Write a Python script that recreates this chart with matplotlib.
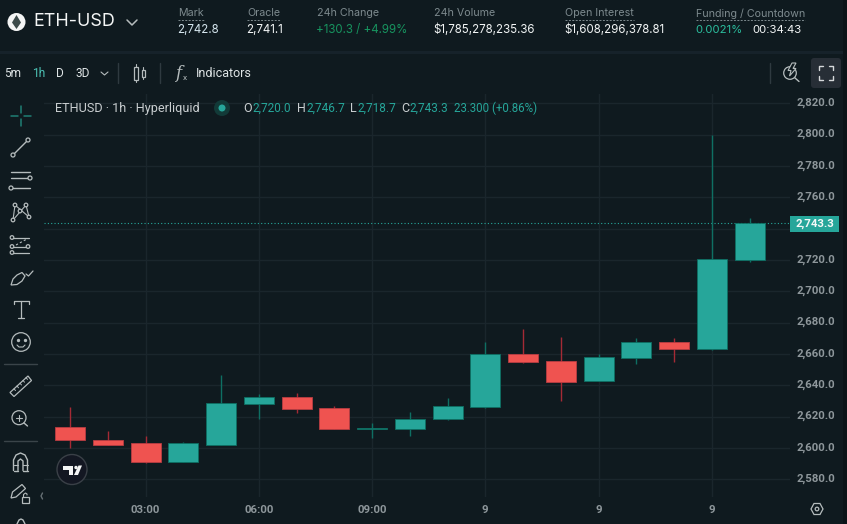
#! python3

import matplotlib
matplotlib.use("Agg")
import matplotlib.pyplot as plt
from matplotlib.patches import Rectangle, Circle, FancyBboxPatch, Polygon
from matplotlib.transforms import ScaledTranslation

WIDTH, HEIGHT = 847, 524
BG = "#0f1a1f"
BAND = "#16222a"
GRID = "#1a262c"
UP = "#26a69a"
DOWN = "#ef5350"
UP_WICK = "#0e6f63"
DOWN_WICK = "#a52a35"
ICON = "#b5bcbd"
LABEL = "#8e979b"

hours = list(range(1, 20))
opens = [2613.6, 2605.0, 2603.0, 2591.3, 2602.0, 2628.3, 2632.5, 2625.7, 2612.0, 2612.0,
         2618.3, 2626.4, 2660.0, 2655.5, 2643.0, 2657.4, 2667.6, 2663.0, 2720.0]
highs = [2626.3, 2610.8, 2607.6, 2604.0, 2646.6, 2634.5, 2635.3, 2627.0, 2616.0, 2623.0,
         2631.7, 2667.6, 2675.7, 2671.0, 2659.8, 2670.0, 2670.0, 2800.0, 2746.7]
lows = [2600.0, 2602.0, 2590.6, 2591.0, 2602.0, 2618.3, 2622.5, 2612.0, 2606.6, 2607.5,
        2617.8, 2625.3, 2654.4, 2630.0, 2642.5, 2653.8, 2655.0, 2662.5, 2718.7]
closes = [2605.3, 2602.0, 2591.3, 2603.0, 2628.7, 2632.5, 2625.0, 2612.0, 2612.6, 2618.7,
          2626.8, 2660.0, 2655.0, 2642.3, 2657.9, 2667.6, 2663.0, 2720.4, 2743.3]

time_ticks = [3, 6, 9, 12, 15, 18]
time_labels = ["03:00", "06:00", "09:00", "9", "9", "9"]
price_ticks = list(range(2580, 2821, 20))
last_price = 2743.3

header_stats = [
    (178, "Mark", "2,742.8", "#d5e6ee", True),
    (247, "Oracle", "2,741.1", "#f2f5f5", True),
    (317, "24h Change", "+130.3 / +4.99%", "#17945f", False),
    (434, "24h Volume", "$1,785,278,235.36", "#f2f5f5", False),
    (565, "Open Interest", "$1,608,296,378.81", "#f2f5f5", True),
    (696, "Funding / Countdown", None, None, True),
]
ohlc_parts = [
    (243, 252, "O", "2,720.0"), (297, 306, "H", "2,746.7"),
    (350, 357, "L", "2,718.7"), (401, 409, "C", "2,743.3"),
]


def pixelAxes(fig):
    ax = fig.add_axes([0, 0, 1, 1], zorder=5)
    ax.set_xlim(0, WIDTH)
    ax.set_ylim(HEIGHT, 0)
    ax.axis("off")
    ax.patch.set_alpha(0)
    return ax


def seg(ax, x, y, color=ICON, lw=1.0):
    ax.plot(x, y, color=color, lw=lw, solid_capstyle="round")


def ring(ax, x, y, r=2.0, color=ICON, lw=0.9):
    ax.add_patch(Circle((x, y), r, fill=True, fc=BG, ec=color, lw=lw, zorder=6))


def outline(ax, pts, lw=0.9):
    ax.add_patch(Polygon(pts, fc="none", ec=ICON, lw=lw))


def drawChart(fig):
    # pixel positions of the price and time scales
    left, right, top, bottom = 44, 790, 94, 497
    ax = fig.add_axes([left / WIDTH, 1 - bottom / HEIGHT,
                       (right - left) / WIDTH, (bottom - top) / HEIGHT])
    ax.set_facecolor(BG)
    px_per_unit = 1.5667
    ax.set_ylim(2820 - (bottom - 103.3) / px_per_unit, 2820 + (103.3 - top) / px_per_unit)
    px_per_hour = 37.75
    ax.set_xlim(3 + (left - 145.5) / px_per_hour, 3 + (right - 145.5) / px_per_hour)
    for side in ax.spines.values():
        side.set_visible(False)
    ax.set_xticks(time_ticks)
    ax.set_xticklabels(time_labels)
    ax.set_yticks(price_ticks)
    # the 2,740.0 label sits behind the last price tag
    ax.set_yticklabels(["" if p == 2740 else f"{p:,.1f}" for p in price_ticks])
    ax.yaxis.tick_right()
    ax.tick_params(axis="both", length=0, labelcolor=LABEL, labelsize=8.2)
    ax.tick_params(axis="y", pad=4.5)
    ax.tick_params(axis="x", pad=5.5)
    up_shift = ScaledTranslation(0, 1.5 / 100, fig.dpi_scale_trans)
    for lab in ax.get_yticklabels():
        lab.set_transform(lab.get_transform() + up_shift)
    for lab in ax.get_xticklabels() + ax.get_yticklabels():
        lab.set_fontfamily("Roboto")
        lab.set_fontweight("bold")
    ax.grid(True, color=GRID, lw=1.0)
    ax.set_axisbelow(True)

    width = 30 / px_per_hour
    for h, o, hi, lo, c in zip(hours, opens, highs, lows, closes):
        up = c >= o
        ax.vlines(h, lo, hi, color=UP_WICK if up else DOWN_WICK, lw=1.0, zorder=2)
        body = max(abs(c - o), 0.6)
        ax.add_patch(Rectangle((h - width / 2, min(o, c)), width, body,
                               fc=UP if up else DOWN, ec=UP_WICK if up else "#b93c42",
                               lw=0.6, zorder=3))
    ax.axhline(last_price, color=UP, lw=0.8, ls=(0, (1, 2)), zorder=1)
    return ax


def drawHeader(ui):
    ui.add_patch(Rectangle((0, 50.5), WIDTH, 3.5, fc=BAND, ec="none"))
    ui.add_patch(Rectangle((842.5, 0), 4.5, HEIGHT, fc="#0b1418", ec="none"))
    ui.add_patch(Circle((16.5, 22), 9, fc="#f4f5f5", ec="none"))
    ui.add_patch(Polygon([(16.5, 15), (21, 22.5), (16.5, 29), (12, 22.5)], fc="#3c4a4a", ec="none"))
    ui.text(33, 22, "ETH-USD", color="#f4f6f6", fontsize=12.9, family="Inter", va="center")
    seg(ui, [127, 132, 137], [20, 25, 20], lw=1.1)
    for x, name, value, color, dashed in header_stats:
        t = ui.text(x, 13.5, name, color="#7d8a8e", fontsize=7.7, family="Inter", va="center")
        if dashed:
            w = t.get_window_extent(ui.figure.canvas.get_renderer()).width
            ui.plot([x, x + w], [20, 20], color="#7d8a8e", lw=0.7, ls=(0, (2, 1.5)))
        if value:
            ui.text(x - 0.5, 30, value, color=color, fontsize=8.3, family="Inter", va="center")
    ui.text(695.5, 30, "0.0021%", color="#2bbd9d", fontsize=8.2, family="Inter", va="center")
    ui.text(752, 30, "00:34:43", color="#f2f5f5", fontsize=8.2, family="Inter", va="center")


def drawToolbar(ui):
    for x, lab, col in [(4, "5m", "#dfe5e6"), (32, "1h", "#4cc2b5"), (56, "D", "#dfe5e6"), (75, "3D", "#dfe5e6")]:
        ui.text(x, 73.5, lab, color=col, fontsize=8.6, family="Roboto", va="center")
    seg(ui, [101, 104.5, 108], [72, 75, 72], lw=0.8)
    seg(ui, [118, 118], [63, 83], color="#2f3a40")
    seg(ui, [160, 160], [63, 83], color="#2f3a40")
    seg(ui, [770, 770], [63, 83], color="#2f3a40")
    for x, h in [(136, 6.5), (143.3, 3.5)]:
        ui.add_patch(Rectangle((x - 1.8, 73 - h), 3.6, 2 * h, fc="none", ec=ICON, lw=0.9))
        seg(ui, [x, x], [73 - h - 2.5, 73 - h], lw=0.8)
        seg(ui, [x, x], [73 + h, 73 + h + 2.5], lw=0.8)
    ui.text(175, 73, "f", color=ICON, fontsize=12, family="DejaVu Serif", style="italic", va="center")
    ui.text(183, 78, "x", color=ICON, fontsize=6, family="Roboto", va="center")
    ui.text(196, 73.5, "Indicators", color="#dfe5e6", fontsize=9.0, family="Roboto", va="center")
    # zoom with bolt and fullscreen buttons
    ui.add_patch(Circle((790, 73), 6.3, fc="none", ec=ICON, lw=0.9))
    seg(ui, [794.5, 799], [77.5, 81.5])
    ui.add_patch(Polygon([(792, 63), (788, 70.5), (791, 70.5), (789.5, 76), (796, 68.5), (793, 68.5), (796, 63)],
                         fc=BG, ec=ICON, lw=0.8, zorder=6))
    ui.add_patch(FancyBboxPatch((811, 58), 30, 30, boxstyle="round,pad=0,rounding_size=3",
                                fc="#272e36", ec="none"))
    for sx, sy in [(-1, -1), (1, -1), (-1, 1), (1, 1)]:
        cx, cy = 825.5 + sx * 7, 73 + sy * 7
        seg(ui, [cx, cx, cx - sx * 4], [cy - sy * 4, cy, cy], color="#d5d8da", lw=1.0)


def drawLegend(ui):
    ui.text(55, 108.5, "ETHUSD · 1h · Hyperliquid", color="#c9ced0", fontsize=9.1, family="Roboto", va="center")
    ui.add_patch(Circle((222, 108), 8, fc="#123a38", ec="none"))
    ui.add_patch(Circle((222, 108), 3.5, fc=UP, ec="none"))
    for xk, xv, key, val in ohlc_parts:
        ui.text(xk, 108.5, key, color="#c9ced0", fontsize=9.0, family="Roboto", va="center")
        ui.text(xv, 108.5, val, color=UP, fontsize=8.5, family="Roboto", va="center")
    ui.text(454, 108.5, "23.300 (+0.86%)", color=UP, fontsize=8.3, family="Roboto", va="center")


def drawSidebar(ui):
    teal = "#1f7f74"
    seg(ui, [11, 18], [116, 116], color=teal, lw=1.1)
    seg(ui, [24, 31], [116, 116], color=teal, lw=1.1)
    seg(ui, [21, 21], [106, 113], color=teal, lw=1.1)
    seg(ui, [21, 21], [119, 126], color=teal, lw=1.1)

    seg(ui, [13, 28], [155, 140])
    ring(ui, 13, 155)
    ring(ui, 28, 140)

    for y, x0, x1 in [(171.5, 11, 30), (178, 11, 30), (188, 11, 30)]:
        seg(ui, [x0, x1], [y, y])
    ring(ui, 30, 178)
    ring(ui, 11, 188)

    seg(ui, [13, 15, 29, 26, 13], [220, 205, 217, 205, 220], lw=0.8)
    for x, y in [(15, 205), (26, 205), (20, 211), (13, 220), (29, 217)]:
        ring(ui, x, y, 1.8)

    for y, x0, x1 in [(237.5, 12, 29), (246.5, 12, 29), (252.5, 12, 29)]:
        seg(ui, [x0, x1], [y, y], lw=0.9)
    ui.plot([16, 26], [245, 239.5], color=ICON, lw=0.8, ls=(0, (2, 2)))
    for x, y in [(12, 237.5), (12, 246.5), (28, 246.5), (12, 252.5)]:
        ring(ui, x, y, 1.8)

    outline(ui, [(11, 285), (13, 279), (17, 275), (22, 272.5), (25, 276), (22, 281), (17, 284.5)])
    seg(ui, [26, 28.5, 33], [274, 276, 271], lw=0.9)

    seg(ui, [13.5, 13.5, 28.5, 28.5], [304, 301, 301, 304], lw=0.9)
    seg(ui, [21, 21], [301, 317.5], lw=0.9)
    seg(ui, [18, 24], [317.5, 317.5], lw=0.9)

    ui.add_patch(Circle((21, 342), 9.3, fc="none", ec=ICON, lw=0.9))
    ui.plot([17.5, 24.5], [339.5, 339.5], ls="none", marker="o", ms=1.4, color=ICON)
    seg(ui, [17, 19, 23, 25], [345, 347, 347, 345], lw=0.8)

    seg(ui, [4, 37], [364, 364], color="#3a4449")

    outline(ui, [(10, 392.5), (28, 376), (31.5, 380.5), (14, 396.5)])
    for i in range(5):
        x = 14 + i * 3
        y = 388.8 - i * 2.8
        seg(ui, [x, x + 1.5], [y, y + 1.8], lw=0.7)

    ui.add_patch(Circle((19, 417.7), 7, fc="none", ec=ICON, lw=0.9))
    seg(ui, [24, 27.5], [423, 426])
    seg(ui, [16, 22], [417.7, 417.7], lw=0.8)
    seg(ui, [19, 19], [414.7, 420.7], lw=0.8)

    seg(ui, [4, 37], [440.5, 440.5], color="#3a4449")

    # magnet
    seg(ui, [13.5, 13.5, 16, 20.5, 25, 27.5, 27.5], [470.5, 460, 455, 453, 455, 460, 470.5])
    seg(ui, [18, 18, 20.5, 23, 23], [470.5, 461, 459, 461, 470.5])
    seg(ui, [13.5, 18], [470.5, 470.5])
    seg(ui, [23, 27.5], [470.5, 470.5])
    seg(ui, [13.5, 18], [465, 465], lw=0.8)
    seg(ui, [23, 27.5], [465, 465], lw=0.8)

    # pencil and lock
    outline(ui, [(11, 498), (12.5, 492), (22, 484.5), (25.5, 488.5), (16, 497)])
    ui.add_patch(Rectangle((21.5, 497), 7.5, 6, fc="none", ec=ICON, lw=0.9))
    seg(ui, [23.5, 23.5, 25.5, 27, 27], [497, 494.5, 493, 494, 495], lw=0.8)
    seg(ui, [42.5, 41, 42.5], [493, 496, 499], color="#667074")
    # cut off icon at the bottom edge
    seg(ui, [17, 19, 21, 23, 25], [524, 520, 519, 520, 524])


def drawPriceTag(ui):
    ui.add_patch(Rectangle((790, 216), 49, 15.5, fc=UP, ec="none"))
    ui.text(815, 223.5, "2,743.3", color="#f4f8f7", fontsize=8.2, family="Roboto", weight="bold",
            ha="center", va="center")


def drawBadges(ui):
    ui.add_patch(Circle((72, 469.5), 15, fc="#131722", ec="#3a4047", lw=1.0))
    logo = "#f4f5f5"
    ui.add_patch(Polygon([(63, 465.5), (72.5, 465.5), (72.5, 475), (68.5, 475), (68.5, 469.5), (63, 469.5)],
                         fc=logo, ec="none"))
    ui.add_patch(Circle((76, 467.5), 1.7, fc=logo, ec="none"))
    ui.add_patch(Polygon([(78.5, 465.5), (82, 465.5), (78, 475), (74, 475)], fc=logo, ec="none"))
    ui.add_patch(Polygon([(811, 509), (814, 503.5), (820, 503.5), (823, 509), (820, 514.5), (814, 514.5)],
                         fc="none", ec=ICON, lw=0.9))
    ui.add_patch(Circle((817, 509), 1.8, fc="none", ec=ICON, lw=0.9))


def main():
    fig = plt.figure(figsize=(WIDTH / 100, HEIGHT / 100), dpi=100, facecolor=BG)
    drawChart(fig)
    ui = pixelAxes(fig)
    fig.canvas.draw()
    drawHeader(ui)
    drawToolbar(ui)
    drawLegend(ui)
    drawSidebar(ui)
    drawPriceTag(ui)
    drawBadges(ui)
    ui.set_xlim(0, WIDTH)
    ui.set_ylim(HEIGHT, 0)
    fig.savefig("out.png", dpi=100, facecolor=BG)


if __name__ == "__main__":
    main()
